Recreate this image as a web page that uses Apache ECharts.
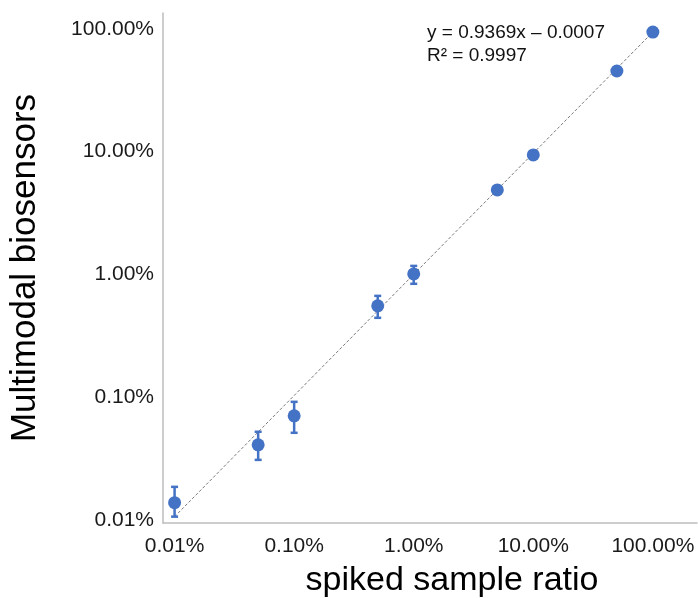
<!DOCTYPE html>
<html>
<head>
<meta charset="utf-8">
<script src="https://cdn.jsdelivr.net/npm/echarts@6/dist/echarts.min.js"></script>
<style>
html,body{margin:0;padding:0;background:#fff;}
#chart{width:698px;height:598px;}
</style>
</head>
<body>
<div id="chart"></div>
<script>
// spiked sample ratio (fraction)
const xValues = [0.0001, 0.0005, 0.001, 0.005, 0.01, 0.05, 0.1, 0.5, 1];
// measured by multimodal biosensors (fraction)
const yValues = [0.000139, 0.000411, 0.000708, 0.00556, 0.0101, 0.0488, 0.094, 0.453, 0.94];
const errLow  = [0.000107, 0.000310, 0.000515, 0.00444, 0.0084, null, null, null, null];
const errHigh = [0.000187, 0.000525, 0.00092, 0.0067, 0.01175, null, null, null, null];
const trendX = [0.0001, 1];
const trendY = [0.000107, 0.94];
const equationLines = ['y = 0.9369x \u2013 0.0007', 'R\u00b2 = 0.9997'];
const xTitle = 'spiked sample ratio';
const yTitle = 'Multimodal biosensors';

const blue = '#4472C4';
const font = '"Liberation Sans", Arial, Helvetica, sans-serif';

function pctLabel(v) {
  const l = Math.log10(v);
  if (Math.abs(l - Math.round(l)) > 1e-6) return '';
  return (v * 100).toFixed(2) + '%';
}

const points = xValues.map((x, i) => [x, yValues[i]]);
const errData = [];
xValues.forEach((x, i) => {
  if (errLow[i] != null) errData.push([x, errLow[i], errHigh[i]]);
});
const trendData = trendX.map((x, i) => [x, trendY[i]]);

const chart = echarts.init(document.getElementById('chart'), null, {renderer: 'canvas'});
chart.setOption({
  animation: false,
  backgroundColor: '#fff',
  grid: {left: 163, right: 1, top: 13, bottom: 75, containLabel: false, outerBoundsMode: 'none'},
  xAxis: {
    type: 'log',
    logBase: 10,
    min: 0.00008,
    max: 2.34,
    name: xTitle,
    nameLocation: 'middle',
    nameGap: 41,
    nameTextStyle: {fontSize: 34, color: '#000', fontFamily: font, padding: [0, 0, 0, 44]},
    axisLine: {show: true, lineStyle: {color: '#bdbdbd', width: 1.5}},
    axisTick: {show: false},
    splitLine: {show: false},
    axisLabel: {formatter: pctLabel, fontSize: 21, color: '#1a1a1a', fontFamily: font, margin: 13, showMinLabel: true, showMaxLabel: true}
  },
  yAxis: {
    type: 'log',
    logBase: 10,
    min: 0.000095,
    max: 1.343,
    name: yTitle,
    nameLocation: 'middle',
    nameGap: 120,
    nameTextStyle: {fontSize: 35, color: '#000', fontFamily: font},
    axisLine: {show: true, lineStyle: {color: '#bdbdbd', width: 1.5}},
    axisTick: {show: false},
    splitLine: {show: false},
    axisLabel: {formatter: pctLabel, fontSize: 21, color: '#1a1a1a', fontFamily: font, margin: 9}
  },
  series: [
    {
      type: 'line',
      data: trendData,
      symbol: 'none',
      lineStyle: {color: '#7a7a7a', width: 1, type: [3, 2]},
      silent: true,
      z: 1
    },
    {
      type: 'custom',
      data: errData,
      renderItem: function (params, api) {
        const x = api.value(0);
        const lo = api.coord([x, api.value(1)]);
        const hi = api.coord([x, api.value(2)]);
        const cw = 3.5;
        const st = {stroke: blue, lineWidth: 2.5};
        return {
          type: 'group',
          children: [
            {type: 'line', shape: {x1: lo[0], y1: lo[1], x2: hi[0], y2: hi[1]}, style: st},
            {type: 'line', shape: {x1: lo[0] - cw, y1: lo[1], x2: lo[0] + cw, y2: lo[1]}, style: st},
            {type: 'line', shape: {x1: hi[0] - cw, y1: hi[1], x2: hi[0] + cw, y2: hi[1]}, style: st}
          ]
        };
      },
      z: 2
    },
    {
      type: 'scatter',
      data: points,
      symbol: 'circle',
      symbolSize: 13,
      itemStyle: {color: blue, opacity: 1},
      z: 3
    }
  ],
  graphic: [
    {
      type: 'text',
      left: 427,
      top: 21,
      style: {
        text: equationLines.join('\n'),
        font: '19px ' + font,
        lineHeight: 23,
        fill: '#111'
      }
    }
  ]
});
</script>
</body>
</html>
